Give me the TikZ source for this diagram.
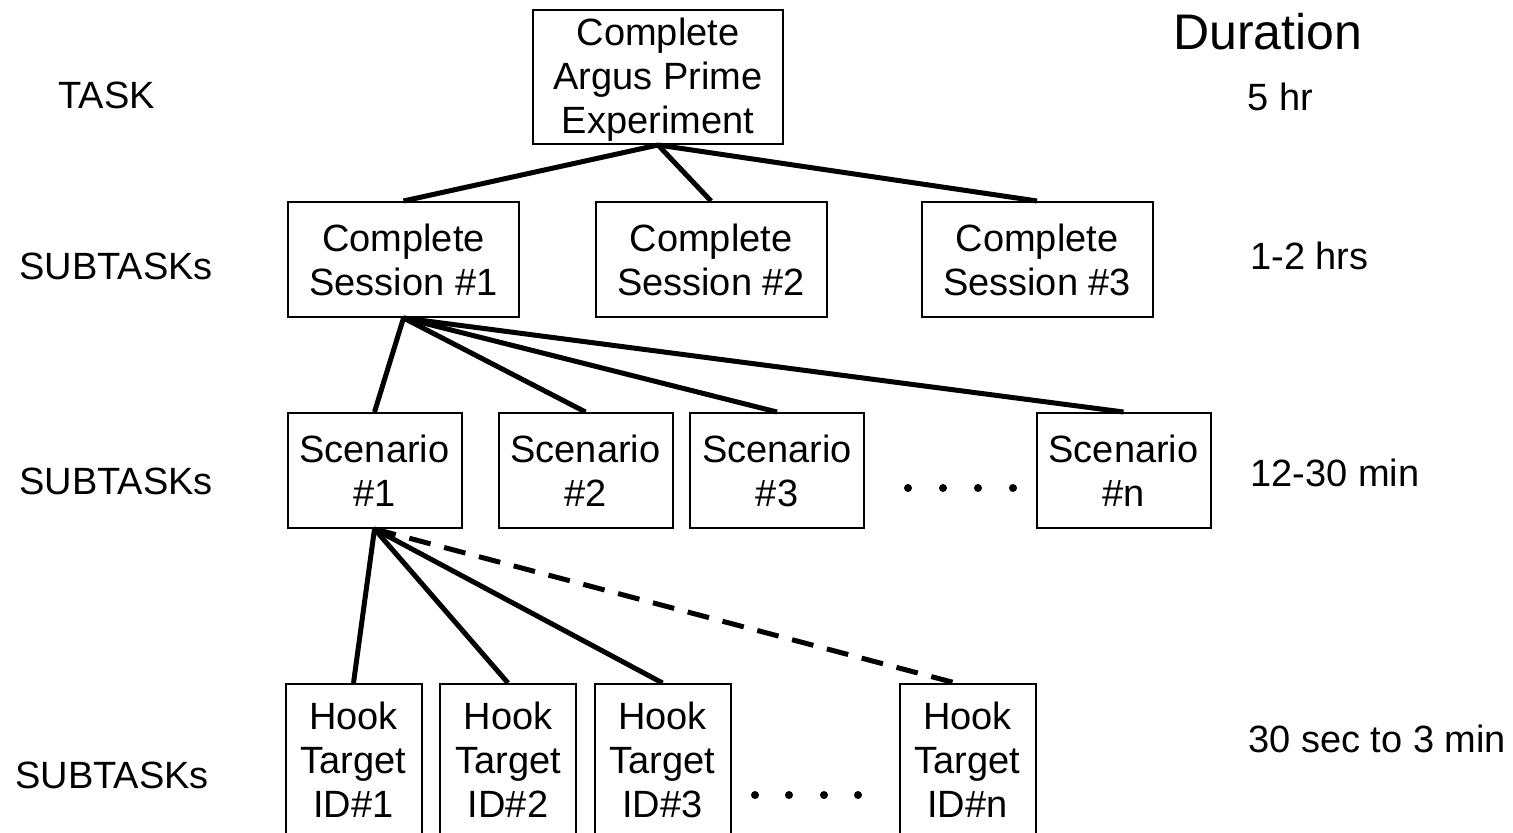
\documentclass[tikz,border=0pt]{standalone}
\usepackage{fontspec}
\setmainfont{Liberation Sans}
\begin{document}
\begin{tikzpicture}[x=0.5pt,y=-0.5pt,
  box/.style={draw, line width=1pt, inner sep=0pt, align=center,
    font=\fontsize{19}{22}\selectfont},
  topbox/.style={box, minimum width=125pt, minimum height=67pt},
  sessbox/.style={box, minimum width=115.5pt, minimum height=57.5pt},
  scenbox/.style={box, minimum width=87pt, minimum height=57.5pt},
  hookbox/.style={box, minimum width=68pt, minimum height=76pt},
  conn/.style={line width=2.5pt},
  dconn/.style={conn, dash pattern=on 11pt off 7pt},
  lbl/.style={anchor=base west, inner sep=0pt, font=\fontsize{19}{22}\selectfont},
  dot/.style={circle, fill, inner sep=0pt, minimum size=4pt}]
\useasboundingbox (0,0) rectangle (1513,833);
\begin{scope}
\clip (0,0) rectangle (1513,833);

% level labels
\node[lbl] (lTask) at (58,109) {TASK};
\node[lbl] (lSub1) at (19,280) {SUBTASKs};
\node[lbl] (lSub2) at (19,494) {SUBTASKs};
\node[lbl] (lSub3) at (15,788) {SUBTASKs};

% durations
\node[lbl, font=\fontsize{25}{30}\selectfont] (dHead) at (1173,50) {Duration};
\node[lbl] (d1) at (1247,111) {5 hr};
\node[lbl] (d2) at (1250,270) {1-2 hrs};
\node[lbl] (d3) at (1250,486) {12-30 min};
\node[lbl] (d4) at (1248,752) {30 sec to 3 min};

% task
\node[topbox] (top) at (658,77)
  {\raisebox{-2pt}[\height][\depth]{\begin{tabular}{@{}c@{}}Complete\\Argus Prime\\Experiment\end{tabular}}};

% sessions
\node[sessbox] (s1) at (403.5,259.5) {Complete\\Session \#1};
\node[sessbox] (s2) at (711,259.5) {Complete\\Session \#2};
\node[sessbox] (s3) at (1037,259.5) {Complete\\Session \#3};

% scenarios
\node[scenbox] (c1) at (374.5,470.5) {Scenario\\\#1};
\node[scenbox] (c2) at (585.5,470.5) {Scenario\\\#2};
\node[scenbox] (c3) at (777,470.5) {Scenario\\\#3};
\node[scenbox] (cn) at (1123.5,470.5) {Scenario\\\#n};

% hook targets
\node[hookbox] (h1) at (353.5,760) {Hook\\Target\\ID\#1};
\node[hookbox] (h2) at (508,760) {Hook\\Target\\ID\#2};
\node[hookbox] (h3) at (662.5,760) {Hook\\Target\\ID\#3};
\node[hookbox] (hn) at (967.5,760) {Hook\\Target\\ID\#n};

% ellipsis dots
\foreach \x [count=\i] in {908,943,978,1013} \node[dot] (ca\i) at (\x,488) {};
\foreach \x [count=\i] in {755,789,824,858} \node[dot] (ha\i) at (\x,795) {};

% connectors
\draw[conn] (top.south) -- (s1.north);
\draw[conn] (top.south) -- (s2.north);
\draw[conn] (top.south) -- (s3.north);
\draw[conn] (s1.south) -- (c1.north);
\draw[conn] (s1.south) -- (c2.north);
\draw[conn] (s1.south) -- (c3.north);
\draw[conn] (s1.south) -- (cn.north);
\draw[conn] (c1.south) -- (h1.north);
\draw[conn] (c1.south) -- (h2.north);
\draw[conn] (c1.south) -- (h3.north);
\draw[dconn] (c1.south) -- ([xshift=-6pt]hn.north);
\end{scope}
\end{tikzpicture}
\end{document}
